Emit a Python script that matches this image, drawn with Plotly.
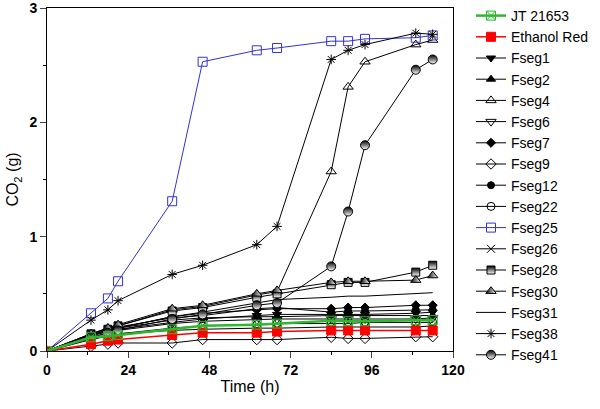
import plotly.graph_objects as go

# sampling times (h)
time_h = [0, 13, 18, 21, 37, 46, 62, 68, 84, 89, 94, 109, 114]

jt21653 = [0, 0.12, 0.13, 0.14, 0.19, 0.22, 0.23, 0.24, 0.265, 0.26, 0.26, 0.27, 0.27]
ethanol_red = [0, 0.06, 0.09, 0.10, 0.14, 0.16, 0.16, 0.17, 0.18, 0.18, 0.18, 0.18, 0.18]
fseg1 = [0, 0.13, 0.17, 0.19, 0.25, 0.28, 0.31, 0.32, 0.32, 0.32, 0.32, 0.33, 0.34]
fseg2 = [0, 0.14, 0.18, 0.20, 0.27, 0.29, 0.30, 0.30, 0.31, 0.31, 0.31, 0.31, 0.31]
fseg4 = [0, 0.15, 0.20, 0.22, 0.36, 0.39, 0.49, 0.52, 1.57, 2.31, 2.53, 2.68, 2.72]
fseg6 = [0, 0.12, 0.16, 0.18, 0.24, 0.26, 0.27, 0.28, 0.28, 0.28, 0.28, 0.28, 0.29]
fseg7 = [0, 0.14, 0.18, 0.20, 0.30, 0.33, 0.36, 0.37, 0.37, 0.38, 0.38, 0.40, 0.40]
fseg9 = [0, 0.04, 0.06, 0.07, 0.07, 0.10, 0.10, 0.10, 0.12, 0.11, 0.11, 0.125, 0.125]
fseg12 = [0, 0.14, 0.18, 0.21, 0.29, 0.31, 0.37, 0.38, 0.34, 0.35, 0.35, 0.36, 0.36]
fseg22 = [0, 0.10, 0.13, 0.15, 0.20, 0.22, 0.23, 0.24, 0.24, 0.24, 0.25, 0.25, 0.25]
fseg25 = [0, 0.33, 0.46, 0.61, 1.31, 2.53, 2.63, 2.65, 2.71, 2.71, 2.73, 2.74, 2.76]
fseg26 = [0, 0.11, 0.14, 0.15, 0.18, 0.19, 0.20, 0.20, 0.21, 0.21, 0.21, 0.21, 0.22]
fseg28 = [0, 0.15, 0.19, 0.22, 0.35, 0.38, 0.47, 0.50, 0.58, 0.60, 0.60, 0.69, 0.75]
fseg30 = [0, 0.15, 0.20, 0.23, 0.37, 0.40, 0.50, 0.53, 0.60, 0.61, 0.61, 0.62, 0.66]
fseg31 = [0, 0.14, 0.18, 0.20, 0.30, 0.34, 0.42, 0.45, 0.47, 0.48, 0.48, 0.50, 0.51]
fseg38 = [0, 0.27, 0.36, 0.44, 0.67, 0.75, 0.93, 1.09, 2.55, 2.63, 2.68, 2.78, 2.77]
fseg41 = [0, 0.12, 0.16, 0.18, 0.28, 0.32, 0.40, 0.42, 0.74, 1.22, 1.80, 2.46, 2.55]

x_ticks = [0, 24, 48, 72, 96, 120]
y_ticks = [0, 1, 2, 3]

BLACK = "black"

# (name, values, symbol, colour, fill, size, line width, gradient)
series = [
    ("JT 21653", jt21653, "square-x-open", "#2db82d", None, 9, 2.5, None),
    ("Ethanol Red", ethanol_red, "square", "red", "red", 9, 1.5, None),
    ("Fseg1", fseg1, "triangle-down", BLACK, BLACK, 8, 1, None),
    ("Fseg2", fseg2, "triangle-up", BLACK, BLACK, 8, 1, None),
    ("Fseg4", fseg4, "triangle-up-open", BLACK, None, 9, 1, None),
    ("Fseg6", fseg6, "triangle-down-open", BLACK, None, 9, 1, None),
    ("Fseg7", fseg7, "diamond", BLACK, BLACK, 7, 1, None),
    ("Fseg9", fseg9, "diamond-open", BLACK, None, 8, 1, None),
    ("Fseg12", fseg12, "circle", BLACK, BLACK, 7, 1, None),
    ("Fseg22", fseg22, "circle-open", BLACK, None, 8, 1, None),
    ("Fseg25", fseg25, "square-open", "#3333cc", None, 9, 1, None),
    ("Fseg26", fseg26, "x-thin-open", BLACK, None, 8, 1, None),
    ("Fseg28", fseg28, "square", BLACK, BLACK, 8, 1, "vertical"),
    ("Fseg30", fseg30, "triangle-up", BLACK, BLACK, 9, 1, "horizontal"),
    ("Fseg31", fseg31, None, BLACK, None, 0, 1, None),
    ("Fseg38", fseg38, "asterisk-open", BLACK, None, 8, 1, None),
    ("Fseg41", fseg41, "circle", BLACK, BLACK, 9, 1, "vertical"),
]

fig = go.Figure()

# black ones first so the coloured lines sit on top, legend order kept by rank
draw_order = list(range(2, len(series))) + [1, 0]
for i in draw_order:
    name, vals, sym, col, fill, size, lw, grad = series[i]
    if sym is None:
        fig.add_trace(go.Scatter(
            x=time_h, y=vals, name=name, mode="lines",
            line=dict(color=col, width=lw), legendrank=i + 1,
        ))
        continue
    marker = dict(symbol=sym, size=size, color=fill if fill else col,
                  line=dict(color=col, width=1))
    if grad:
        marker["gradient"] = dict(type=grad, color="white")
    fig.add_trace(go.Scatter(
        x=time_h, y=vals, name=name, mode="lines+markers",
        line=dict(color=col, width=lw), marker=marker, legendrank=i + 1,
    ))

font = "Arial, Liberation Sans, sans-serif"

fig.update_layout(
    width=600, height=409,
    margin=dict(l=47, r=147, t=8, b=58),
    paper_bgcolor="white", plot_bgcolor="white",
    font=dict(family=font, color="black"),
    showlegend=True,
    legend=dict(xref="container", yref="container", x=0.785, y=1.0,
                xanchor="left", yanchor="top", maxheight=409,
                font=dict(size=14), itemwidth=30, tracegroupgap=0,
                bgcolor="rgba(0,0,0,0)"),
)

fig.update_xaxes(
    range=[0, 120], tickvals=x_ticks, ticks="outside", ticklen=6,
    tickwidth=1, linecolor="black", linewidth=1, mirror=True,
    showgrid=False, zeroline=False, automargin="bottom",
    ticklabeloverflow="allow",
    tickfont=dict(size=14, weight="bold"),
    minor=dict(dtick=12, ticks="outside", ticklen=3, tickcolor="black"),
    title=dict(text="Time (h)", font=dict(size=16), standoff=4),
)
fig.update_yaxes(
    range=[0, 3], tickvals=y_ticks, ticks="outside", ticklen=6,
    tickwidth=1, linecolor="black", linewidth=1, mirror=True,
    showgrid=False, zeroline=False, automargin="left",
    ticklabeloverflow="allow",
    tickfont=dict(size=14, weight="bold"),
    minor=dict(dtick=0.5, ticks="outside", ticklen=3, tickcolor="black"),
    title=dict(text="CO<sub>2</sub> (g)", font=dict(size=16), standoff=6),
)

# the page body has a default 8px margin; drop it so the figure fills the window
fig.write_html("out.html", config={"displayModeBar": False},
               post_script="document.body.style.margin='0';")
